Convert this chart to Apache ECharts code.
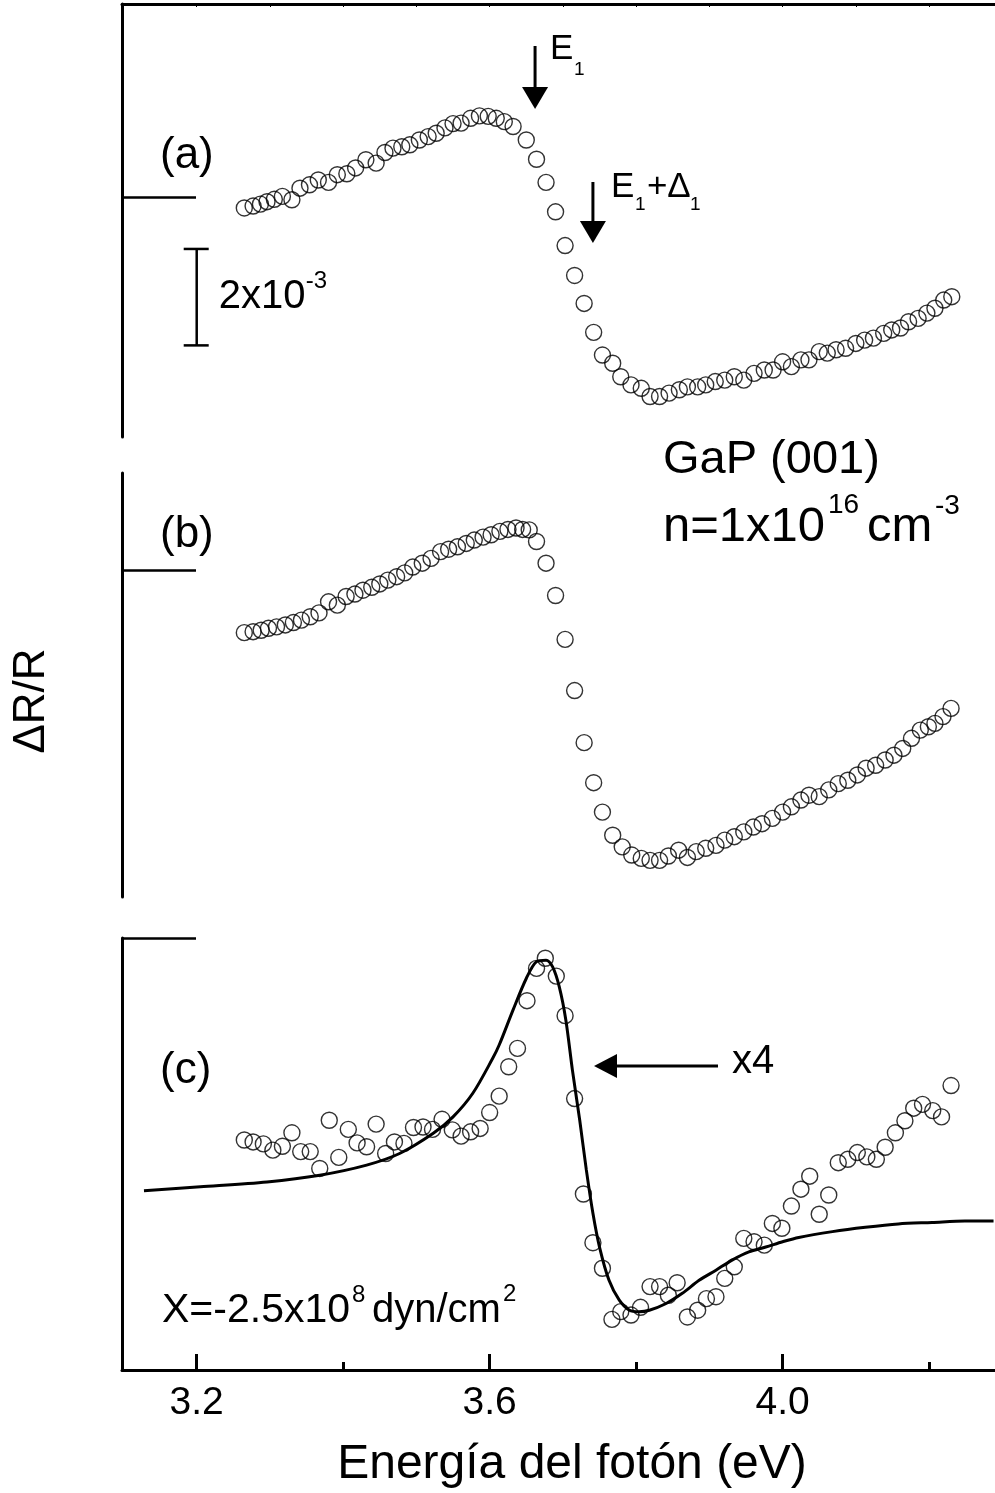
<!DOCTYPE html>
<html>
<head>
<meta charset="utf-8">
<script src="https://cdn.jsdelivr.net/npm/echarts@6/dist/echarts.min.js"></script>
<style>
  html, body { margin: 0; padding: 0; background: #fff; }
  #chart { width: 995px; height: 1493px; }
</style>
</head>
<body>
<div id="chart"></div>
<script>
// (a) ΔR/R in units of 1e-3, zero = short mark on the left axis
const energyA = [3.265,3.277,3.287,3.296,3.306,3.317,3.330,3.341,3.354,3.366,3.380,3.392,3.405,3.417,3.431,3.445,3.457,3.468,3.480,3.491,3.504,3.516,3.527,3.539,3.550,3.561,3.574,3.586,3.598,3.609,3.620,3.632,3.650,3.664,3.677,3.690,3.703,3.716,3.729,3.742,3.754,3.768,3.779,3.793,3.807,3.819,3.832,3.845,3.859,3.870,3.884,3.895,3.908,3.921,3.934,3.947,3.961,3.975,3.987,4.000,4.012,4.025,4.036,4.050,4.061,4.073,4.086,4.100,4.112,4.124,4.138,4.149,4.161,4.172,4.185,4.197,4.208,4.220,4.231];
const drA = [-0.23,-0.19,-0.15,-0.10,-0.05,0.01,-0.06,0.18,0.25,0.35,0.30,0.46,0.48,0.60,0.77,0.70,0.92,1.01,1.04,1.08,1.18,1.25,1.32,1.43,1.52,1.53,1.63,1.68,1.67,1.63,1.56,1.46,1.18,0.78,0.30,-0.31,-1.01,-1.63,-2.21,-2.81,-3.28,-3.45,-3.73,-3.90,-3.97,-4.14,-4.14,-4.07,-4.00,-3.94,-3.94,-3.90,-3.83,-3.80,-3.73,-3.80,-3.66,-3.59,-3.59,-3.42,-3.52,-3.38,-3.38,-3.21,-3.24,-3.17,-3.14,-3.04,-2.97,-2.93,-2.83,-2.76,-2.72,-2.59,-2.52,-2.41,-2.31,-2.14,-2.07];

// (b)
const energyB = [3.265,3.277,3.288,3.298,3.309,3.321,3.332,3.343,3.355,3.367,3.380,3.392,3.404,3.416,3.427,3.439,3.450,3.461,3.473,3.484,3.495,3.508,3.520,3.533,3.544,3.556,3.568,3.579,3.591,3.602,3.614,3.625,3.636,3.645,3.654,3.664,3.677,3.690,3.703,3.716,3.729,3.742,3.754,3.768,3.781,3.794,3.807,3.819,3.832,3.844,3.858,3.870,3.882,3.895,3.909,3.921,3.934,3.947,3.960,3.972,3.986,4.000,4.012,4.025,4.036,4.050,4.063,4.076,4.089,4.102,4.114,4.127,4.140,4.152,4.164,4.176,4.188,4.199,4.208,4.219,4.230];
const drB = [-1.30,-1.28,-1.25,-1.21,-1.18,-1.14,-1.09,-1.04,-0.97,-0.89,-0.66,-0.73,-0.55,-0.50,-0.42,-0.36,-0.29,-0.21,-0.14,-0.06,0.06,0.14,0.24,0.38,0.43,0.48,0.55,0.62,0.68,0.73,0.80,0.84,0.87,0.84,0.83,0.59,0.14,-0.53,-1.44,-2.50,-3.58,-4.41,-5.02,-5.50,-5.74,-5.91,-5.98,-6.02,-6.02,-5.93,-5.81,-5.96,-5.84,-5.77,-5.71,-5.60,-5.53,-5.43,-5.33,-5.26,-5.15,-5.02,-4.91,-4.77,-4.67,-4.70,-4.56,-4.43,-4.36,-4.25,-4.11,-4.05,-3.94,-3.84,-3.70,-3.49,-3.32,-3.25,-3.18,-3.04,-2.87];

// (c) difference spectrum, shown x4
const energyC = [3.265,3.277,3.291,3.304,3.317,3.330,3.342,3.355,3.368,3.381,3.394,3.407,3.419,3.432,3.445,3.458,3.470,3.483,3.496,3.509,3.522,3.535,3.549,3.561,3.574,3.587,3.600,3.613,3.626,3.638,3.651,3.664,3.676,3.691,3.703,3.716,3.728,3.741,3.754,3.767,3.779,3.793,3.806,3.819,3.832,3.844,3.856,3.870,3.884,3.896,3.909,3.921,3.934,3.947,3.961,3.975,3.986,3.999,4.012,4.025,4.037,4.050,4.063,4.076,4.089,4.102,4.115,4.128,4.140,4.154,4.167,4.179,4.191,4.205,4.217,4.230];
const drC = [-4.19,-4.23,-4.27,-4.40,-4.32,-4.04,-4.43,-4.43,-4.78,-3.78,-4.55,-3.97,-4.25,-4.33,-3.86,-4.47,-4.23,-4.26,-3.93,-3.92,-3.97,-3.76,-3.98,-4.11,-4.02,-3.95,-3.62,-3.28,-2.67,-2.29,-1.30,-0.63,-0.42,-0.79,-1.61,-3.33,-5.31,-6.32,-6.85,-7.91,-7.75,-7.82,-7.66,-7.23,-7.23,-7.41,-7.15,-7.86,-7.72,-7.48,-7.44,-7.06,-6.82,-6.23,-6.30,-6.37,-5.92,-6.02,-5.56,-5.21,-4.94,-5.73,-5.33,-4.66,-4.59,-4.45,-4.54,-4.59,-4.34,-4.04,-3.79,-3.53,-3.45,-3.58,-3.71,-3.06];

// fitted curve in (c)
const fitEnergy = [3.128,3.205,3.296,3.368,3.432,3.477,3.523,3.550,3.577,3.604,3.613,3.632,3.650,3.664,3.677,3.686,3.695,3.704,3.713,3.723,3.732,3.741,3.750,3.763,3.777,3.791,3.804,3.818,3.841,3.863,3.886,3.909,3.931,3.954,3.977,4.000,4.022,4.068,4.113,4.158,4.204,4.249,4.288];
const fitDr = [-5.24,-5.16,-5.06,-4.92,-4.71,-4.47,-4.05,-3.71,-3.22,-2.50,-2.22,-1.49,-0.84,-0.49,-0.46,-0.60,-1.01,-1.70,-2.74,-3.78,-4.81,-5.71,-6.41,-7.10,-7.51,-7.72,-7.75,-7.72,-7.58,-7.37,-7.10,-6.89,-6.68,-6.51,-6.41,-6.30,-6.21,-6.09,-6.00,-5.93,-5.90,-5.87,-5.87];

const majorTicks = [3.2, 3.6, 4.0];
const minorTicks = [3.4, 3.8, 4.2];
const topTicks = [3.2, 3.3, 3.4, 3.5, 3.6, 3.7, 3.8, 3.9, 4.0, 4.1, 4.2];
const E1 = 3.662;
const E1D1 = 3.741;

const FONT = '"Liberation Sans", Arial, Helvetica, sans-serif';
const X_MIN = 3.098, X_MAX = 4.29;

const chart = echarts.init(document.getElementById('chart'));

const pairs = (xs, ys) => xs.map((x, i) => [x, ys[i]]);
const blackLine = { color: '#000', width: 3 };

const leftAxis = (grid, min, max) => ({
    type: 'value', gridIndex: grid, min: min, max: max,
    axisLine: { show: true, onZero: false, lineStyle: blackLine },
    axisTick: { show: true, inside: true, length: 74, customValues: [0], lineStyle: { color: '#000', width: 2.5 } },
    axisLabel: { show: false },
    splitLine: { show: false }
});

const circles = (xi, xs, ys) => ({
    type: 'scatter', xAxisIndex: xi, yAxisIndex: xi,
    data: pairs(xs, ys),
    symbol: 'circle', symbolSize: 16,
    itemStyle: { color: 'rgba(0,0,0,0)', borderColor: '#000', borderWidth: 1.4 },
    silent: true, z: 3
});

const option = {
    animation: false,
    backgroundColor: '#fff',
    grid: [
        { left: 122, top: 4, width: 875, height: 433 },
        { left: 122, top: 473, width: 875, height: 424 },
        { left: 122, top: 938, width: 875, height: 432 }
    ],
    xAxis: [
        {
            type: 'value', gridIndex: 0, position: 'top', min: X_MIN, max: X_MAX,
            axisLine: { show: true, onZero: false, lineStyle: blackLine },
            axisTick: { show: true, inside: true, length: 3, customValues: topTicks, lineStyle: { color: '#000', width: 1 } },
            axisLabel: { show: false },
            splitLine: { show: false }
        },
        { type: 'value', gridIndex: 1, min: X_MIN, max: X_MAX, show: false },
        {
            type: 'value', gridIndex: 2, position: 'bottom', min: X_MIN, max: X_MAX,
            axisLine: { show: true, onZero: false, lineStyle: blackLine },
            axisTick: { show: true, inside: true, length: 16, customValues: majorTicks, lineStyle: { color: '#000', width: 3 } },
            axisLabel: {
                customValues: majorTicks,
                formatter: (v) => v.toFixed(1),
                fontSize: 39, color: '#000', fontFamily: FONT, margin: 14
            },
            splitLine: { show: false }
        },
        {
            // minor ticks
            type: 'value', gridIndex: 2, position: 'bottom', min: X_MIN, max: X_MAX,
            axisLine: { show: false, onZero: false },
            axisTick: { show: true, inside: true, length: 8, customValues: minorTicks, lineStyle: { color: '#000', width: 3 } },
            axisLabel: { show: false },
            splitLine: { show: false }
        }
    ],
    yAxis: [
        leftAxis(0, -4.98, 4.0),
        leftAxis(1, -6.78, 2.01),
        leftAxis(2, -8.96, 0)
    ],
    series: [
        circles(0, energyA, drA),
        circles(1, energyB, drB),
        circles(2, energyC, drC),
        {
            type: 'line', xAxisIndex: 2, yAxisIndex: 2,
            data: pairs(fitEnergy, fitDr),
            showSymbol: false, smooth: 0.3, silent: true,
            lineStyle: { color: '#000', width: 3 }, z: 2
        }
    ]
};

chart.setOption(option);

// annotations
const px = (i, x, y) => chart.convertToPixel({ xAxisIndex: i, yAxisIndex: i }, [x, y]);

const txt = (text, x, y, size, align, extra) => Object.assign({
    type: 'text', x: x, y: y, silent: true,
    style: {
        text: text, fill: '#000', font: size + 'px ' + FONT,
        textAlign: align || 'left', textVerticalAlign: 'middle',
        align: align || 'left', verticalAlign: 'middle'
    }
}, extra || {});

const seg = (x1, y1, x2, y2, w) => ({
    type: 'line', silent: true,
    shape: { x1: x1, y1: y1, x2: x2, y2: y2 },
    style: { stroke: '#000', lineWidth: w || 3 }
});

const tri = (pts) => ({ type: 'polygon', silent: true, shape: { points: pts }, style: { fill: '#000' } });

const downArrow = (x, yTop, yTip) => [
    seg(x, yTop, x, yTip - 18, 3),
    tri([[x - 13, yTip - 22], [x + 13, yTip - 22], [x, yTip]])
];

const ax = px(0, E1, 0)[0];
const bx = px(0, E1D1, 0)[0];
const barTop = px(0, 3.2, -1.08);
const barBot = px(0, 3.2, -3.08);
const sx = barTop[0];
const barMid = (barTop[1] + barBot[1]) / 2;

const graphics = [].concat(
    downArrow(ax, 46, 109),
    downArrow(bx, 182, 243),
    [
        txt('E', ax + 15, 49, 35),
        txt('1', ax + 39, 70, 19),
        txt('E', bx + 18, 187, 35),
        txt('1', bx + 42, 205, 19),
        txt('+Δ', bx + 54, 187, 35),
        txt('1', bx + 97, 205, 19),

        // scale bar 2x10^-3
        seg(sx, barTop[1], sx, barBot[1], 2.5),
        seg(sx - 13, barTop[1], sx + 12, barTop[1], 2.5),
        seg(sx - 13, barBot[1], sx + 12, barBot[1], 2.5),
        txt('2x10', sx + 22, barMid, 40),
        txt('-3', sx + 109, barMid - 16, 24),

        txt('(a)', 160, 156, 44),
        txt('(b)', 160, 535, 44),
        txt('(c)', 160, 1071, 44),

        txt('GaP (001)', 663, 460, 47),
        txt('n=1x10', 663, 527, 49),
        txt('16', 828, 505, 28),
        txt('cm', 867, 527, 49),
        txt('-3', 935, 506, 28),

        // x4 arrow
        seg(612, 1066, 718, 1066, 3),
        tri([[594, 1066], [617, 1054], [617, 1078]]),
        txt('x4', 732, 1062, 40),

        txt('X=-2.5x10', 162, 1311, 41),
        txt('8', 352, 1295, 24),
        txt('dyn/cm', 372, 1311, 40),
        txt('2', 503, 1294, 24),

        txt('ΔR/R', 32, 701, 44, 'center', { rotation: Math.PI / 2 }),
        txt('Energía del fotón (eV)', 572, 1465, 48, 'center')
    ]
);

chart.setOption({ graphic: { elements: graphics } });

window.addEventListener('resize', () => chart.resize());
</script>
</body>
</html>
